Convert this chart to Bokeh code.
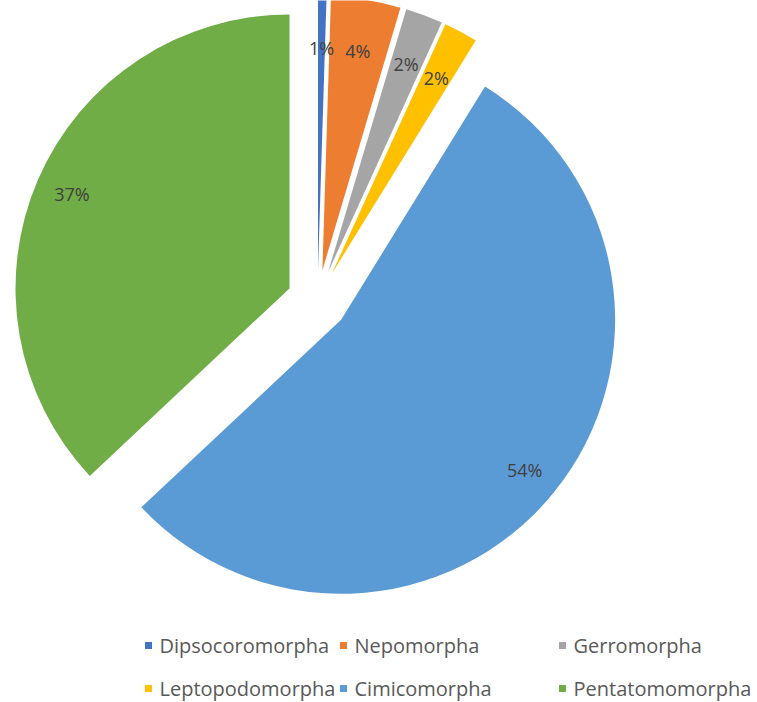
import math
from bokeh.plotting import figure
from bokeh.models import Range1d, ColumnDataSource
from bokeh.core.properties import value
from bokeh.embed import file_html
from bokeh.resources import INLINE

# ---- data ----
categories = ["Dipsocoromorpha", "Nepomorpha", "Gerromorpha",
              "Leptopodomorpha", "Cimicomorpha", "Pentatomomorpha"]
percentages = [0.5, 4.1, 2.2, 2.0, 54.2, 37.0]
colors = ["#4472C4", "#ED7D31", "#A5A5A5", "#FFC000", "#5B9BD5", "#70AD47"]

# ---- layout constants ----
W, H = 757, 702
CX, CY = 317, 702 - 300  # pie centre (data units = px)
R = 274                  # radius
EXPLODE = 30.5           # explosion offset
FONT = "Open Sans"

p = figure(width=W, height=H, output_backend="svg", toolbar_location=None,
           x_range=Range1d(0, W), y_range=Range1d(0, H),
           min_border=0, min_border_left=0, min_border_right=0,
           min_border_top=0, min_border_bottom=0)
p.axis.visible = False
p.grid.visible = False
p.outline_line_color = None
p.background_fill_color = "white"

total = sum(percentages)
xs, ys, starts, ends, lx, ly, labels = [], [], [], [], [], [], []
cum = 0.0
for v in percentages:
    a0 = 90.0 - cum / total * 360.0          # clockwise from 12 o'clock
    a1 = a0 - v / total * 360.0
    mid = math.radians((a0 + a1) / 2.0)
    vx = CX + EXPLODE * math.cos(mid)
    vy = CY + EXPLODE * math.sin(mid)
    xs.append(vx); ys.append(vy)
    starts.append(math.radians(a1)); ends.append(math.radians(a0))
    frac = 0.81 if v < 10 else 0.865
    lx.append(vx + frac * R * math.cos(mid))
    ly.append(vy + frac * R * math.sin(mid))
    labels.append(f"{int(v + 0.5)}%")
    cum += v

src = ColumnDataSource(dict(x=xs, y=ys, start=starts, end=ends, color=colors,
                            lx=lx, ly=ly, label=labels))
p.wedge(x="x", y="y", radius=R, start_angle="start", end_angle="end",
        direction="anticlock", fill_color="color", line_color=None, source=src)
p.text(x="lx", y="ly", text="label", source=src, text_align="center",
       text_baseline="middle", text_font=value(FONT), text_font_size="18px",
       text_color="#404040")

# ---- legend (3 columns x 2 rows) ----
col_x = [148, 343, 562]
row_y = [702 - 645, 702 - 688]
mx, my, tx, ty = [], [], [], []
for i, name in enumerate(categories):
    c = col_x[i % 3]
    r = row_y[i // 3]
    mx.append(c); my.append(r)
    tx.append(c + 11); ty.append(r)
lsrc = ColumnDataSource(dict(mx=mx, my=my, tx=tx, ty=ty, name=categories, color=colors))
p.scatter(x="mx", y="my", marker="square", size=7, fill_color="color",
          line_color=None, source=lsrc)
p.text(x="tx", y="ty", text="name", source=lsrc, text_align="left",
       text_baseline="middle", text_font=value(FONT), text_font_size="20px",
       text_color="#595959")

open("out.html", "w").write(file_html(p, INLINE))
